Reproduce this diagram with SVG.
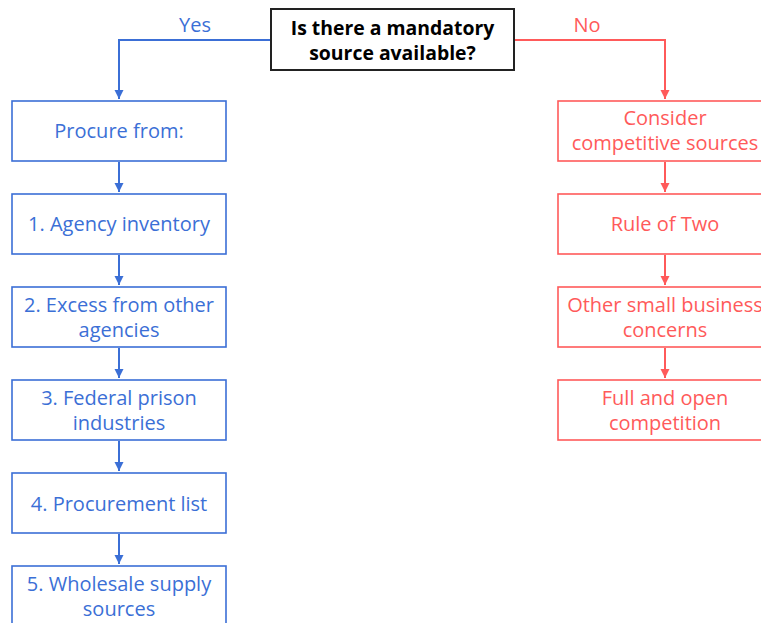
<svg xmlns="http://www.w3.org/2000/svg" width="761" height="623" viewBox="0 0 761 623">
<style>
.b rect{fill:#fff;stroke:#3b6fd6;stroke-width:1.6}
.r rect{fill:#fff;stroke:#ff5a5a;stroke-width:1.6}
.b text{fill:#3b6fd6}
.r text{fill:#ff5a5a}
text{font-family:"Open Sans","Noto Sans",sans-serif;font-size:20px;text-anchor:middle}
.t text{fill:#000;font-weight:bold;font-size:19.4px}
.cb{stroke:#3b6fd6;stroke-width:2;fill:none}
.cr{stroke:#ff5a5a;stroke-width:2;fill:none}
</style>
<defs>
<marker id="ab" markerWidth="10" markerHeight="10" refX="9" refY="5" orient="auto" markerUnits="userSpaceOnUse"><path d="M0,0.5 L9,5 L0,9.5 Z" fill="#3b6fd6"/></marker>
<marker id="ar" markerWidth="10" markerHeight="10" refX="9" refY="5" orient="auto" markerUnits="userSpaceOnUse"><path d="M0,0.5 L9,5 L0,9.5 Z" fill="#ff5a5a"/></marker>
</defs>
<rect width="761" height="623" fill="#fff"/>
<g id="connectors">
<path class="cb" d="M271,40 H119 V99" marker-end="url(#ab)"/>
<path class="cb" d="M119,162 V192" marker-end="url(#ab)"/>
<path class="cb" d="M119,255 V285" marker-end="url(#ab)"/>
<path class="cb" d="M119,348 V378" marker-end="url(#ab)"/>
<path class="cb" d="M119,441 V471" marker-end="url(#ab)"/>
<path class="cb" d="M119,534 V564" marker-end="url(#ab)"/>
<path class="cr" d="M514,40 H665 V99" marker-end="url(#ar)"/>
<path class="cr" d="M665,162 V192" marker-end="url(#ar)"/>
<path class="cr" d="M665,255 V285" marker-end="url(#ar)"/>
<path class="cr" d="M665,348 V378" marker-end="url(#ar)"/>
<g class="b"><text x="195" y="32">Yes</text></g>
<g class="r"><text x="587" y="32">No</text></g>
</g>
<g id="q" class="t"><rect x="271" y="9" width="243" height="61" fill="#fff" stroke="#222" stroke-width="2"/><text x="392.5" y="35">Is there a mandatory</text><text x="392.5" y="60">source available?</text></g>
<g id="l0" class="b"><rect x="12" y="101" width="214" height="60"/><text x="119" y="138">Procure from:</text></g>
<g id="l1" class="b"><rect x="12" y="194" width="214" height="60"/><text x="119" y="231">1. Agency inventory</text></g>
<g id="l2" class="b"><rect x="12" y="287" width="214" height="60"/><text x="119" y="312">2. Excess from other</text><text x="119" y="337">agencies</text></g>
<g id="l3" class="b"><rect x="12" y="380" width="214" height="60"/><text x="119" y="405">3. Federal prison</text><text x="119" y="430">industries</text></g>
<g id="l4" class="b"><rect x="12" y="473" width="214" height="60"/><text x="119" y="511">4. Procurement list</text></g>
<g id="l5" class="b"><rect x="12" y="566" width="214" height="60"/><text x="119" y="591">5. Wholesale supply</text><text x="119" y="616">sources</text></g>
<g id="r0" class="r"><rect x="558" y="101" width="214" height="60"/><text x="665" y="125">Consider</text><text x="665" y="150">competitive sources</text></g>
<g id="r1" class="r"><rect x="558" y="194" width="214" height="60"/><text x="665" y="231">Rule of Two</text></g>
<g id="r2" class="r"><rect x="558" y="287" width="214" height="60"/><text x="665" y="312">Other small business</text><text x="665" y="337">concerns</text></g>
<g id="r3" class="r"><rect x="558" y="380" width="214" height="60"/><text x="665" y="405">Full and open</text><text x="665" y="430">competition</text></g>
</svg>
